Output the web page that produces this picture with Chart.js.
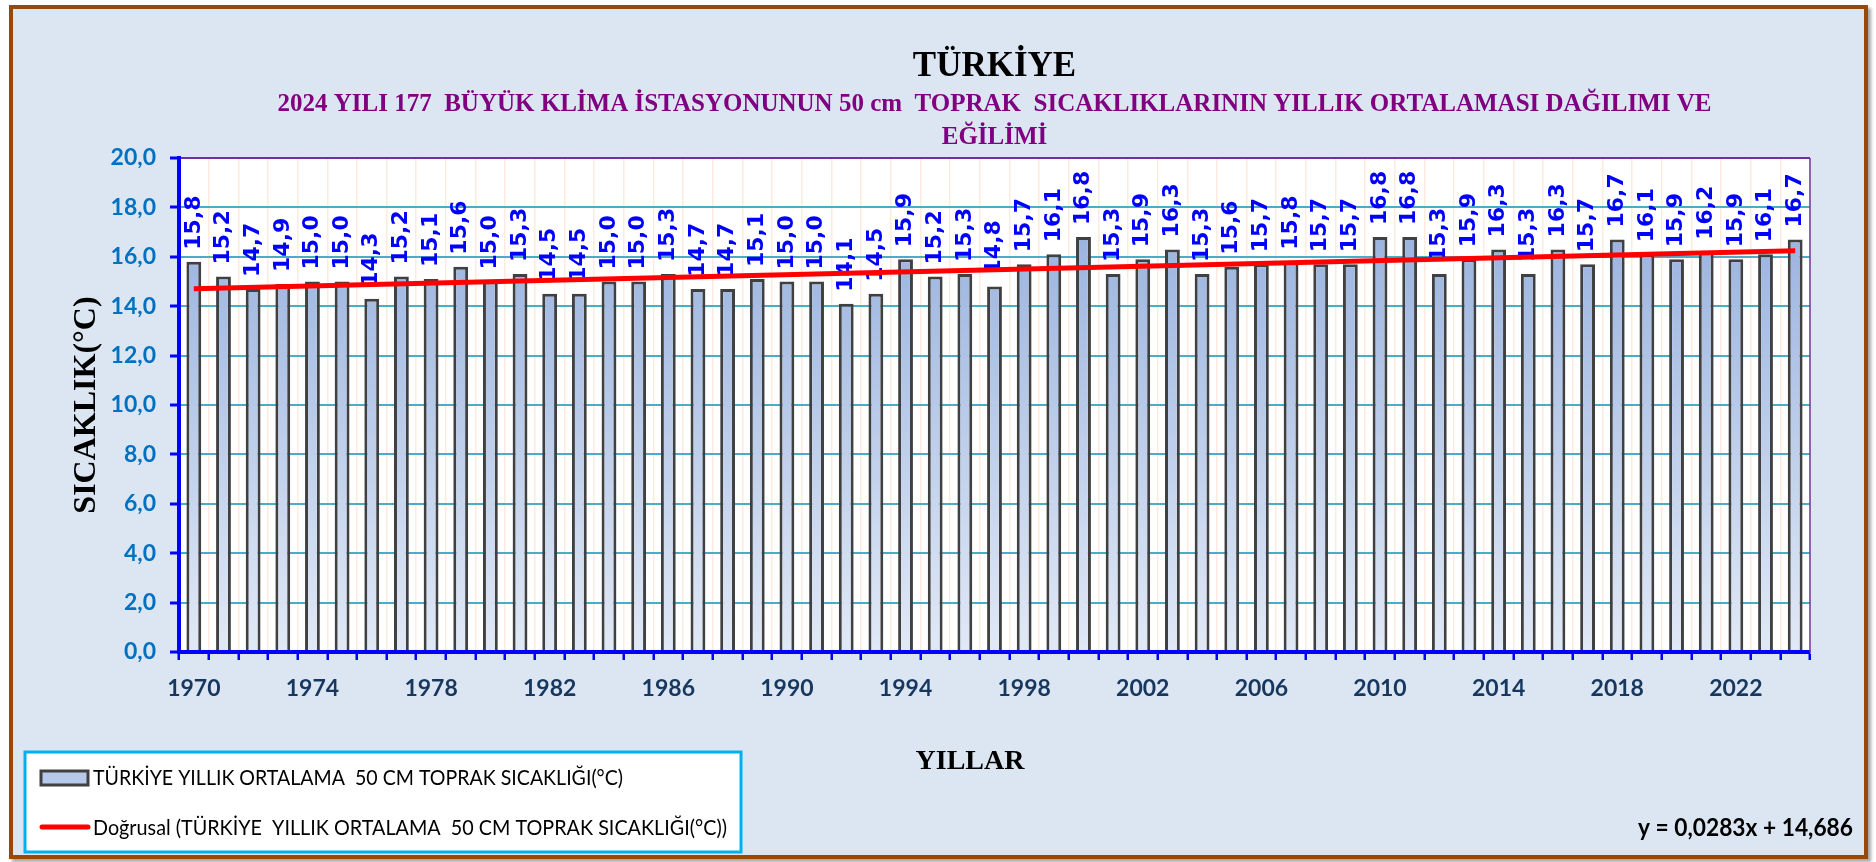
<!DOCTYPE html>
<html lang="tr">
<head>
<meta charset="utf-8">
<title>Türkiye 50 cm toprak sıcaklığı</title>
<script src="https://cdn.jsdelivr.net/npm/chart.js@4.4.1/dist/chart.umd.min.js"></script>
<style>
  html, body { margin: 0; padding: 0; background: #ffffff; }
  #frame {
    position: absolute; left: 9px; top: 5px; width: 1859px; height: 854px;
    box-sizing: border-box; border: 4px solid #984807; background: #dce6f2;
    box-shadow: 3px 3px 3px rgba(0, 0, 0, 0.35);
  }
  #chart { position: absolute; left: 0; top: 0; }
</style>
</head>
<body>
<div id="frame"></div>
<canvas id="chart" width="1876" height="862"></canvas>
<script>
// yıllar ve yıllık ortalama 50 cm toprak sıcaklıkları
const years = [
  '1970','1971','1972','1973','1974','1975','1976','1977','1978','1979',
  '1980','1981','1982','1983','1984','1985','1986','1987','1988','1989',
  '1990','1991','1992','1993','1994','1995','1996','1997','1998','1999',
  '2000','2001','2002','2003','2004','2005','2006','2007','2008','2009',
  '2010','2011','2012','2013','2014','2015','2016','2017','2018','2019',
  '2020','2021','2022','2023','2024'
];
const soilTemps = [
  15.8, 15.2, 14.7, 14.9, 15.0, 15.0, 14.3, 15.2, 15.1, 15.6,
  15.0, 15.3, 14.5, 14.5, 15.0, 15.0, 15.3, 14.7, 14.7, 15.1,
  15.0, 15.0, 14.1, 14.5, 15.9, 15.2, 15.3, 14.8, 15.7, 16.1,
  16.8, 15.3, 15.9, 16.3, 15.3, 15.6, 15.7, 15.8, 15.7, 15.7,
  16.8, 16.8, 15.3, 15.9, 16.3, 15.3, 16.3, 15.7, 16.7, 16.1,
  15.9, 16.2, 15.9, 16.1, 16.7
];
// doğrusal eğilim çizgisinin uç noktaları
const trendYears = ['1970', '2024'];
const trendValues = [14.71, 16.24];
const yTicks = [0, 2, 4, 6, 8, 10, 12, 14, 16, 18, 20];

const barLabel = 'TÜRKİYE YILLIK ORTALAMA  50 CM TOPRAK SICAKLIĞI(°C)';
const trendLabel = 'Doğrusal (TÜRKİYE  YILLIK ORTALAMA  50 CM TOPRAK SICAKLIĞI(°C))';
const equationText = 'y = 0,0283x + 14,686';

const fmt = (v) => v.toFixed(1).replace('.', ',');

function barGradient(context) {
  const chart = context.chart;
  const a = chart.chartArea;
  if (!a) return '#a9bfe6';
  const g = chart.ctx.createLinearGradient(0, a.bottom, 0, a.top);
  g.addColorStop(0, '#e1e9f6');
  g.addColorStop(1, '#8eaadb');
  return g;
}

const extras = {
  id: 'extras',
  beforeDraw(chart) {
    const {ctx, chartArea: a} = chart;
    ctx.save();
    ctx.fillStyle = '#ffffff';
    ctx.fillRect(a.left, a.top, a.right - a.left, a.bottom - a.top);
    ctx.restore();
  },
  afterDatasetDraw(chart, args) {
    // veri etiketleri: çubukların üstünde, dikey
    if (args.index !== 0) return;
    const ctx = chart.ctx;
    ctx.save();
    ctx.font = 'bold 22px "DejaVu Sans"';
    ctx.fillStyle = '#0000ff';
    ctx.textAlign = 'left';
    ctx.textBaseline = 'middle';
    args.meta.data.forEach((bar, i) => {
      ctx.save();
      ctx.translate(bar.x, bar.y - 12);
      ctx.rotate(-Math.PI / 2);
      ctx.fillText(fmt(soilTemps[i]), 0, 0);
      ctx.restore();
    });
    ctx.restore();
  },
  afterDraw(chart) {
    const {ctx, chartArea: a} = chart;
    ctx.save();
    // sağ çerçeve çizgisi
    ctx.strokeStyle = '#7030a0';
    ctx.lineWidth = 1.5;
    ctx.beginPath();
    ctx.moveTo(a.right, a.top);
    ctx.lineTo(a.right, a.bottom);
    ctx.stroke();

    // lejant kutusu
    ctx.fillStyle = '#ffffff';
    ctx.fillRect(25, 752, 716, 100);
    ctx.strokeStyle = '#00b0f0';
    ctx.lineWidth = 3;
    ctx.strokeRect(25, 752, 716, 100);

    ctx.fillStyle = '#b7c9ea';
    ctx.fillRect(41, 771, 47, 14);
    ctx.strokeStyle = '#404040';
    ctx.lineWidth = 3;
    ctx.strokeRect(41, 771, 47, 14);

    ctx.strokeStyle = '#ff0000';
    ctx.lineWidth = 5;
    ctx.lineCap = 'round';
    ctx.beginPath();
    ctx.moveTo(42, 827);
    ctx.lineTo(88, 827);
    ctx.stroke();

    ctx.fillStyle = '#000000';
    ctx.font = '22px Lato';
    ctx.textAlign = 'left';
    ctx.textBaseline = 'middle';
    ctx.fillText(barLabel, 93, 778, 530);
    ctx.fillText(trendLabel, 93, 828, 634);

    // eğilim denklemi
    ctx.font = 'bold 24px Lato';
    ctx.textAlign = 'right';
    ctx.fillText(equationText, 1853, 828, 215);
    ctx.restore();
  }
};

const ctx = document.getElementById('chart');
new Chart(ctx, {
  type: 'bar',
  data: {
    labels: years,
    datasets: [
      {
        label: barLabel,
        data: soilTemps,
        backgroundColor: barGradient,
        borderColor: '#404040',
        borderWidth: 3,
        barPercentage: 0.5,
        categoryPercentage: 1.0,
        order: 1
      },
      {
        type: 'line',
        label: trendLabel,
        data: trendYears.map((y, i) => ({x: y, y: trendValues[i]})),
        borderColor: '#ff0000',
        borderWidth: 5,
        pointRadius: 0,
        fill: false,
        order: 0
      }
    ]
  },
  options: {
    responsive: false,
    animation: false,
    devicePixelRatio: 1,
    layout: { padding: { top: 10, left: 50, right: 66, bottom: 10 } },
    plugins: {
      legend: { display: false },
      tooltip: { enabled: false },
      title: {
        display: true,
        fullSize: false,
        text: 'TÜRKİYE',
        color: '#000000',
        font: { family: '"Liberation Serif", "Times New Roman", serif', size: 35, weight: 'bold', lineHeight: 1.2 },
        padding: { top: 36, bottom: 0 }
      },
      subtitle: {
        display: true,
        fullSize: false,
        text: [
          '2024 YILI 177  BÜYÜK KLİMA İSTASYONUNUN 50 cm  TOPRAK  SICAKLIKLARININ YILLIK ORTALAMASI DAĞILIMI VE',
          'EĞİLİMİ'
        ],
        color: '#800080',
        font: { family: '"Liberation Serif", "Times New Roman", serif', size: 25, weight: 'bold', lineHeight: 1.32 },
        padding: { top: 0, bottom: 4 }
      }
    },
    scales: {
      x: {
        grid: {
          color: '#fdebdf',
          lineWidth: 1.5,
          tickColor: '#0000ff',
          tickWidth: 2.5,
          tickLength: 8
        },
        border: { color: '#0000ff', width: 4, z: 1 },
        ticks: {
          autoSkip: false,
          maxRotation: 0,
          padding: 15,
          color: '#17375e',
          font: { family: 'Lato', size: 23, weight: 'bold' },
          callback: function(value, index) {
            return index % 4 === 0 ? years[index] : '';
          }
        },
        title: {
          display: true,
          text: 'YILLAR' + '\u00a0'.repeat(7),
          color: '#000000',
          font: { family: '"Liberation Serif", "Times New Roman", serif', size: 28, weight: 'bold' },
          padding: { top: 0, bottom: 73 }
        },
        afterFit(scale) { scale.height = 200; }
      },
      y: {
        min: 0,
        max: 20,
        afterBuildTicks(scale) { scale.ticks = yTicks.map(v => ({value: v})); },
        grid: {
          color: (c) => (c.tick && c.tick.value === 20 ? '#7030a0' : '#4bacc6'),
          lineWidth: 2,
          tickColor: '#0000ff',
          tickWidth: 3,
          tickLength: 9
        },
        border: { color: '#0000ff', width: 4, z: 1 },
        ticks: {
          padding: 14,
          color: '#0070c0',
          font: { family: 'Lato', size: 23, weight: 'bold' },
          callback: (v) => fmt(v)
        },
        title: {
          display: true,
          text: 'SICAKLIK(°C)',
          color: '#000000',
          font: { family: '"Liberation Serif", "Times New Roman", serif', size: 32, weight: 'bold' },
          padding: { top: 18, bottom: 0 },
          align: 'center'
        },
        afterFit(scale) { scale.width = 129; }
      }
    }
  },
  plugins: [extras]
});
</script>
</body>
</html>
